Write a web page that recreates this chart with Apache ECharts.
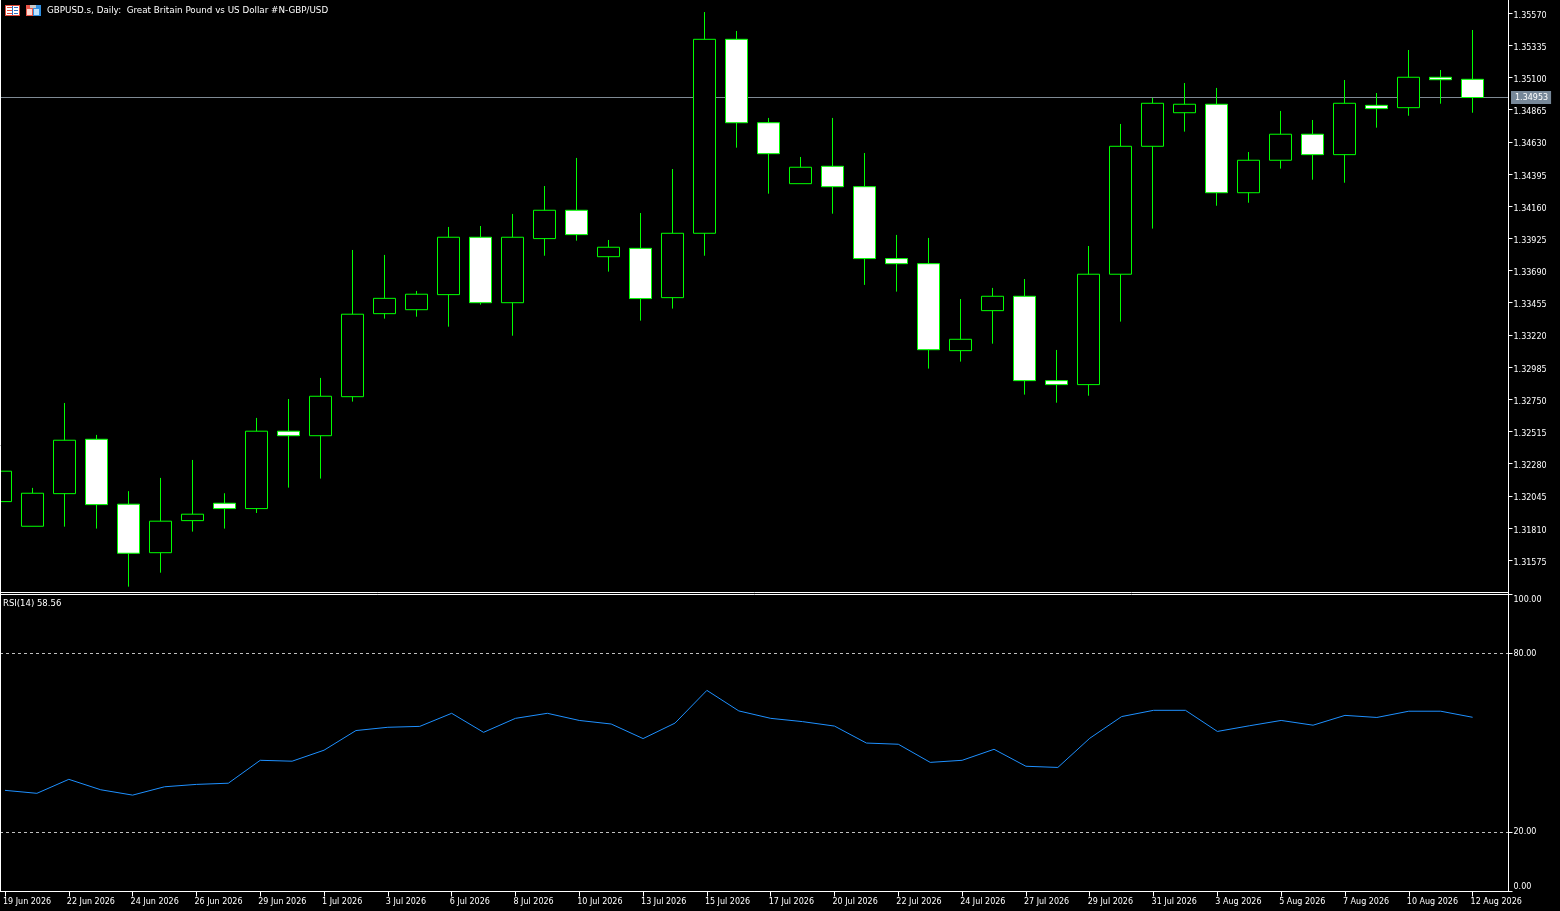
<!DOCTYPE html>
<html>
<head>
<meta charset="utf-8">
<style>html,body{margin:0;padding:0;background:#000;overflow:hidden}#c{width:1560px;height:911px}</style>
<script src="https://cdn.jsdelivr.net/npm/echarts@6/dist/echarts.min.js"></script>
</head>
<body>
<div id="c"></div>
<script>
const dates = ['19 Jun 2026','21 Jun 2026','22 Jun 2026','23 Jun 2026','24 Jun 2026','25 Jun 2026','26 Jun 2026','28 Jun 2026','29 Jun 2026','30 Jun 2026','1 Jul 2026','2 Jul 2026','3 Jul 2026','5 Jul 2026','6 Jul 2026','7 Jul 2026','8 Jul 2026','9 Jul 2026','10 Jul 2026','12 Jul 2026','13 Jul 2026','14 Jul 2026','15 Jul 2026','16 Jul 2026','17 Jul 2026','19 Jul 2026','20 Jul 2026','21 Jul 2026','22 Jul 2026','23 Jul 2026','24 Jul 2026','26 Jul 2026','27 Jul 2026','28 Jul 2026','29 Jul 2026','30 Jul 2026','31 Jul 2026','2 Aug 2026','3 Aug 2026','4 Aug 2026','5 Aug 2026','6 Aug 2026','7 Aug 2026','9 Aug 2026','10 Aug 2026','11 Aug 2026','12 Aug 2026',''];
const open = [1.32003,1.31823,1.32061,1.32458,1.31984,1.31630,1.31864,1.31991,1.31952,1.32517,1.32484,1.32769,1.33375,1.33404,1.33514,1.33933,1.33455,1.33923,1.34130,1.33791,1.33852,1.33492,1.33962,1.35378,1.34769,1.34324,1.34451,1.34302,1.33777,1.33740,1.33105,1.33397,1.33502,1.32886,1.32857,1.33663,1.34597,1.34842,1.34904,1.34258,1.34495,1.34685,1.34536,1.34896,1.34879,1.35101,1.35086];
const close = [1.32225,1.32064,1.32451,1.31981,1.31626,1.31860,1.31911,1.31952,1.32517,1.32484,1.32772,1.33371,1.33487,1.33517,1.33933,1.33455,1.33933,1.34130,1.33952,1.33860,1.33485,1.33962,1.35378,1.34769,1.34543,1.34444,1.34302,1.33777,1.33740,1.33112,1.33188,1.33502,1.32886,1.32857,1.33663,1.34597,1.34911,1.34904,1.34258,1.34495,1.34685,1.34536,1.34911,1.34872,1.35101,1.35083,1.34953];
const low = [1.32003,1.31823,1.31820,1.31806,1.31382,1.31484,1.31784,1.31806,1.31920,1.32105,1.32171,1.32733,1.33339,1.33353,1.33280,1.33441,1.33214,1.33798,1.33908,1.33682,1.33324,1.33412,1.33798,1.34587,1.34251,1.34324,1.34105,1.33585,1.33536,1.32974,1.33025,1.33156,1.32784,1.32725,1.32776,1.33317,1.33996,1.34704,1.34163,1.34185,1.34434,1.34353,1.34331,1.34733,1.34820,1.34908,1.34842];
const high = [1.32225,1.32103,1.32723,1.32490,1.32079,1.32176,1.32307,1.32064,1.32614,1.32752,1.32906,1.33840,1.33804,1.33541,1.34008,1.34015,1.34103,1.34307,1.34512,1.33913,1.34110,1.34431,1.35577,1.35439,1.34804,1.34519,1.34804,1.34548,1.33950,1.33928,1.33482,1.33563,1.33628,1.33110,1.33869,1.34760,1.34950,1.35059,1.35023,1.34555,1.34855,1.34789,1.35081,1.34986,1.35300,1.35154,1.35446];
const rsi = [34.0,33.0,37.7,34.2,32.4,35.2,36.0,36.4,44.1,43.8,47.5,54.1,55.2,55.5,59.9,53.5,58.2,59.9,57.5,56.3,51.4,56.6,67.6,60.7,58.2,57.1,55.6,49.9,49.5,43.4,44.1,47.8,42.1,41.7,51.5,58.8,60.9,60.9,53.8,55.7,57.5,55.9,59.2,58.5,60.6,60.6,58.56];
const priceTicks = [1.31575,1.31810,1.32045,1.32280,1.32515,1.32750,1.32985,1.33220,1.33455,1.33690,1.33925,1.34160,1.34395,1.34630,1.34865,1.35100,1.35335,1.35570];
const rsiTicks = [0,20,80,100];
const rsiLevels = [80,20];
const lastPrice = 1.34953;
const titleText = 'GBPUSD.s, Daily:  Great Britain Pound vs US Dollar #N-GBP/USD';
const rsiText = 'RSI(14) 58.56';

const FONT = 'DejaVu Sans';
const candles = open.map((o, i) => [o, close[i], low[i], high[i]]);
const frameLine = (x1, y1, x2, y2) => ({
  type: 'line', silent: true, z: 50,
  shape: { x1, y1, x2, y2 },
  style: { stroke: '#ffffff', lineWidth: 1 }
});
const rect = (x, y, w, h, fill) => ({ type: 'rect', silent: true, z: 60, shape: { x, y, width: w, height: h }, style: { fill } });
const icons = [
  rect(5, 5, 15, 11, '#e04a3a'), rect(6, 6, 13, 9, '#ffffff'),
  rect(7, 7, 5, 1, '#e04a3a'), rect(7, 10, 5, 1, '#e04a3a'), rect(7, 13, 5, 1, '#e04a3a'),
  rect(12, 6, 1, 9, '#2f6fc0'),
  rect(14, 7, 4, 1, '#2f6fc0'), rect(14, 10, 4, 1, '#2f6fc0'), rect(14, 13, 4, 1, '#2f6fc0'),
  rect(26, 5, 7, 11, '#e8564a'), rect(27, 9, 5, 6, '#ffd9d0'),
  rect(33, 5, 8, 11, '#2f8fe0'), rect(34, 9, 5, 6, '#bfe3ff'),
  rect(30, 5, 6, 3, '#c8c8c8')
];

const chart = echarts.init(document.getElementById('c'), null, { renderer: 'canvas' });
chart.setOption({
  animation: false,
  backgroundColor: '#000000',
  title: [
    { text: titleText, left: 47, top: 5, padding: 0, textStyle: { color: '#fff', fontFamily: FONT, fontSize: 8.75, fontWeight: 'normal', lineHeight: 11 } },
    { text: rsiText, left: 3, top: 598, padding: 0, textStyle: { color: '#fff', fontFamily: FONT, fontSize: 8.5, fontWeight: 'normal', lineHeight: 11 } }
  ],
  grid: [
    { left: 0.5, top: 0, width: 1504, height: 592 },
    { left: 0.5, top: 594, width: 1504, height: 297.5 }
  ],
  xAxis: [
    { type: 'category', gridIndex: 0, data: dates, boundaryGap: false, axisLine: { show: false }, axisTick: { show: false }, axisLabel: { show: false }, splitLine: { show: false } },
    { type: 'category', gridIndex: 1, data: dates, boundaryGap: false,
      axisLine: { show: true, lineStyle: { color: '#fff', width: 1 } },
      axisTick: { show: true, interval: 1, length: 5, lineStyle: { color: '#fff', width: 1 } },
      axisLabel: { show: true, interval: 1, align: 'left', margin: 6, padding: [0, 0, 0, -2], color: '#fff', fontFamily: FONT, fontSize: 8, hideOverlap: false },
      splitLine: { show: false } }
  ],
  yAxis: [
    { type: 'value', gridIndex: 0, position: 'right', offset: 4, min: 1.31343, max: 1.35665, scale: true,
      axisLine: { show: true, lineStyle: { color: '#fff', width: 1 } },
      axisTick: { show: true, length: 4, customValues: priceTicks, lineStyle: { color: '#fff' } },
      axisLabel: { show: true, margin: 5, verticalAlign: 'top', lineHeight: 5, customValues: priceTicks, color: '#fff', fontFamily: FONT, fontSize: 8, formatter: v => v.toFixed(5) },
      splitLine: { show: false } },
    { type: 'value', gridIndex: 1, position: 'right', offset: 4, min: 0, max: 100,
      axisLine: { show: true, lineStyle: { color: '#fff', width: 1 } },
      axisTick: { show: true, length: 4, customValues: rsiTicks, lineStyle: { color: '#fff' } },
      axisLabel: { show: true, margin: 5, padding: [2, 0, 1, 0], customValues: rsiTicks, color: '#fff', fontFamily: FONT, fontSize: 8, verticalAlignMinLabel: 'bottom', verticalAlignMaxLabel: 'top', formatter: v => v.toFixed(2) },
      splitLine: { show: false } }
  ],
  series: [
    { type: 'candlestick', name: 'GBPUSD.s', xAxisIndex: 0, yAxisIndex: 0, z: 3, barWidth: 22, clip: false,
      data: candles,
      itemStyle: { color: '#000000', color0: '#ffffff', borderColor: '#00ff00', borderColor0: '#00ff00', borderWidth: 1 },
      markLine: { silent: true, symbol: 'none', z: 1, animation: false, precision: 5,
        lineStyle: { color: '#7f8a94', type: 'solid', width: 1 },
        label: { show: true, position: 'end', distance: 3, formatter: () => lastPrice.toFixed(5), color: '#fff', backgroundColor: '#778899', fontFamily: FONT, fontSize: 8, padding: [3, 3, 2, 4] },
        data: [[{ x: 0, yAxis: lastPrice }, { x: 1508, yAxis: lastPrice }]] } },
    { type: 'line', name: 'RSI(14)', xAxisIndex: 1, yAxisIndex: 1, z: 3, data: rsi, showSymbol: false, symbol: 'none', smooth: false, clip: false,
      lineStyle: { color: '#1e90ff', width: 1 },
      markLine: { silent: true, symbol: 'none', z: 1, animation: false,
        lineStyle: { color: '#c0c0c0', type: [3, 3], width: 1 },
        label: { show: false },
        data: rsiLevels.map(v => [{ x: 0, yAxis: v }, { x: 1508, yAxis: v }]) } }
  ],
  graphic: { elements: [
    frameLine(0.5, 0, 0.5, 891),
    frameLine(1508.5, 0, 1508.5, 892),
    frameLine(0, 592.5, 1508.5, 592.5),
    frameLine(0, 594.5, 1508.5, 594.5),
    frameLine(0, 891.5, 1508.5, 891.5),
    ...icons
  ] }
});
</script>
</body>
</html>
